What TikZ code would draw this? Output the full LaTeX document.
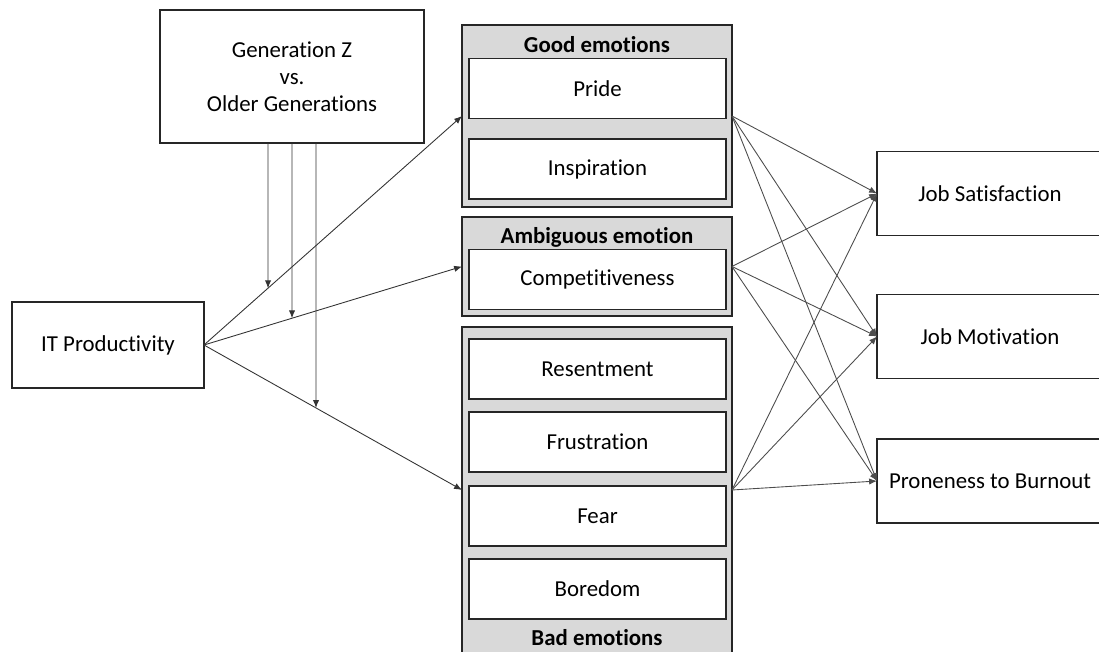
\documentclass[tikz,border=0pt]{standalone}
\usepackage{fontspec}
\setmainfont{Carlito}[RawFeature={-liga;-clig;-calt;-dlig}]
\usetikzlibrary{arrows.meta,calc}

\begin{document}
\begin{tikzpicture}[x=0.02cm,y=-0.02cm,>={Latex[length=4.5pt,width=3.6pt]},
        every node/.style={font=\fontsize{13}{15.5}\selectfont, align=center, inner sep=0pt, outer sep=0pt},
        box/.style={draw=black!85, line width=0.9pt, fill=white},
        emo/.style={box, minimum width=5.14cm, minimum height=1.2cm},
        outcome/.style={box, minimum width=4.52cm, minimum height=1.68cm},
        group/.style={draw=black!85, line width=1.3pt, fill=black!15, minimum width=5.4cm},
        grouplabel/.style={font=\fontsize{13}{15.5}\selectfont\bfseries},
        link/.style={->, draw=black!70, line width=0.5pt}]
        \useasboundingbox (0,0) rectangle (1099,652);
        % moderator and predictor
        \node [box, minimum width=5.28cm, minimum height=2.66cm] at (292,76.5) (gen) {Generation Z\\vs.\\Older Generations};
        \node [box, minimum width=3.84cm, minimum height=1.72cm] at (108,345) (it) {IT Productivity};
        % emotion groups
        \node [group, minimum height=3.64cm] at (597,116) (good) {};
        \node [group, minimum height=1.98cm] at (597,266.5) (ambig) {};
        \node [group, minimum height=6.52cm] at (597,490) (bad) {};
        \node [grouplabel] at (597,45) (goodlabel) {Good emotions};
        \node [grouplabel] at (597,237) (ambiglabel) {Ambiguous emotion};
        \node [grouplabel] at (597,638) (badlabel) {Bad emotions};
        \node [emo] at (597.5,88.5) (pride) {Pride};
        \node [emo] at (597.5,169) (insp) {Inspiration};
        \node [emo] at (597.5,279.5) (comp) {Competitiveness};
        \node [emo] at (597.5,369) (resent) {Resentment};
        \node [emo] at (597.5,442) (frust) {Frustration};
        \node [emo] at (597.5,516) (fear) {Fear};
        \node [emo] at (597.5,589) (bore) {Boredom};
        % outcomes
        \node [outcome] at (990,193.5) (sat) {Job Satisfaction};
        \node [outcome] at (990,336.5) (mot) {Job Motivation};
        \node [outcome] at (990,481) (burn) {Proneness to Burnout};
        % predictor to emotions
        \foreach \g in {good,ambig,bad}
                \draw [link, draw=black!80] (it.east) -- (\g.west);
        % moderation
        \coordinate (m1) at ($(gen.south)+(-24,0)$);
        \coordinate (m2) at (gen.south);
        \coordinate (m3) at ($(gen.south)+(24,0)$);
        \coordinate (m1b) at (m1 |- it.south);
        \coordinate (m2b) at (m2 |- it.south);
        \coordinate (m3b) at (m3 |- it.south);
        \draw [link, draw=black!80] (m1) -- (intersection of it.east--good.west and m1--m1b);
        \draw [link, draw=black!80] (m2) -- (intersection of it.east--ambig.west and m2--m2b);
        \draw [link, draw=black!80] (m3) -- (intersection of it.east--bad.west and m3--m3b);
        % emotions to outcomes
        \foreach \g in {good,ambig,bad}
                \foreach \o in {sat,mot,burn}
                        \draw [link] (\g.east) -- (\o.west);
\end{tikzpicture}
\end{document}
